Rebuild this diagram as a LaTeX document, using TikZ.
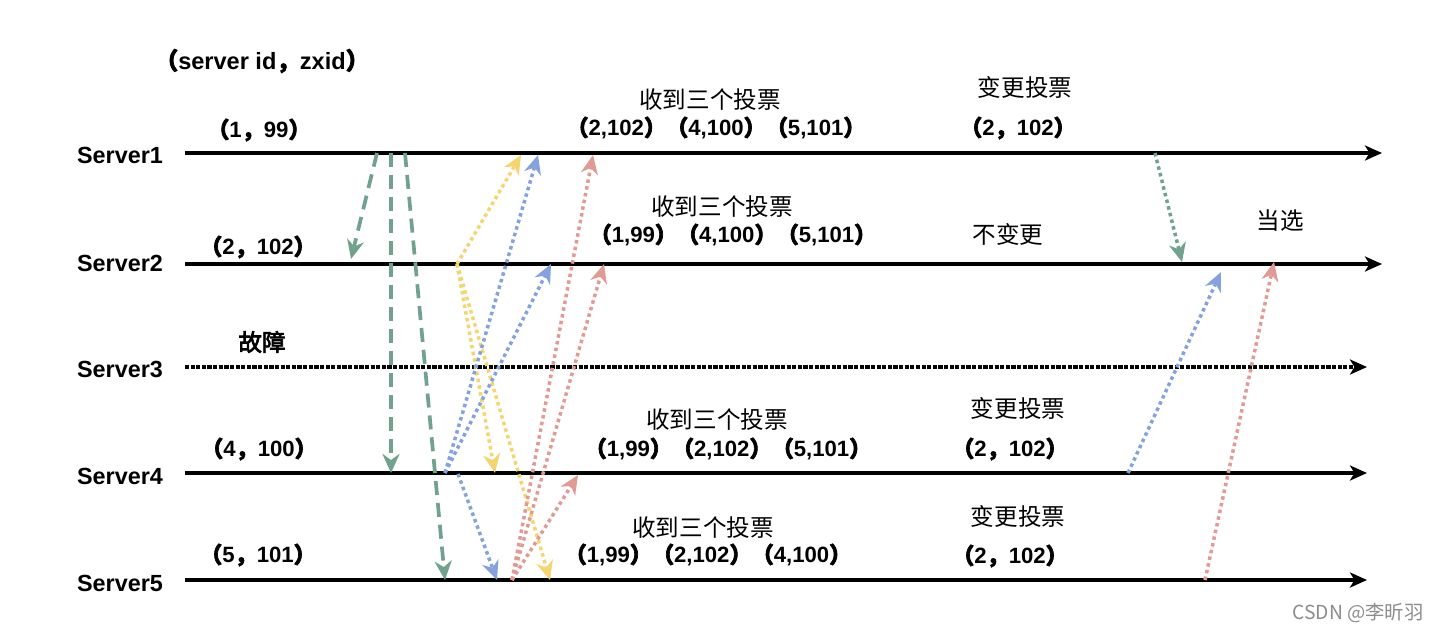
\documentclass[tikz,border=0pt]{standalone}
\usepackage{fontspec}
\setmainfont{Liberation Sans}
\newfontfamily\cjk{Noto Sans CJK SC}
\newfontfamily\cjkb[FakeBold=3]{Noto Sans CJK SC}
\newcommand\zhlp{{\cjkb （}}
\newcommand\zhrp{{\cjkb ）}}
\newcommand\zhcm{{\cjkb ，}}
\usetikzlibrary{arrows.meta}
\definecolor{cgreen}{RGB}{112,162,142}
\definecolor{cyellow}{RGB}{245,213,112}
\definecolor{cblue}{RGB}{132,162,222}
\definecolor{cred}{RGB}{226,154,148}
\tikzset{
  mainline/.style={line width=2pt,-{Stealth[length=0.34cm,width=0.3cm,inset=0.09cm]}},
  failline/.style={mainline,dash pattern=on 2.4pt off 0.8pt},
  lbl/.style={font=\fontsize{13.3}{15}\selectfont\bfseries},
  tup/.style={font=\fontsize{12.6}{14}\selectfont\bfseries},
  zh/.style={font=\fontsize{13.4}{15}\selectfont\cjk},
  zhb/.style={font=\fontsize{13.4}{15}\selectfont\cjkb},
  msgtip/.style={-{Stealth[length=0.38cm,width=0.34cm,inset=0.12cm]}},
  dashmsg/.style={msgtip,line width=2.1pt,dash pattern=on 8pt off 4.5pt},
  dotmsg/.style={msgtip,line width=2pt,dash pattern=on 2pt off 1.9pt},
}
\begin{document}
\begin{tikzpicture}[x=0.02cm,y=-0.02cm]
\useasboundingbox (0,0) rectangle (1436,633);
% server lines
\coordinate (s1a) at (185,153); \coordinate (s1b) at (1382,153);
\coordinate (s2a) at (185,264); \coordinate (s2b) at (1382,264);
\coordinate (s3a) at (185,367); \coordinate (s3b) at (1367,367);
\coordinate (s4a) at (185,473); \coordinate (s4b) at (1367,473);
\coordinate (s5a) at (185,580); \coordinate (s5b) at (1367,580);
\draw[mainline] (s1a) -- (s1b);
\draw[mainline] (s2a) -- (s2b);
\draw[failline] (s3a) -- (s3b);
\draw[mainline] (s4a) -- (s4b);
\draw[mainline] (s5a) -- (s5b);
% labels
\node[lbl] (n1) at (120,155) {Server1};
\node[lbl] (n2) at (120,263) {Server2};
\node[lbl] (n3) at (120,369) {Server3};
\node[lbl] (n4) at (120,476) {Server4};
\node[lbl] (n5) at (120,583) {Server5};
\node[tup,font=\fontsize{13.4}{15}\selectfont\bfseries] (hdr) at (262,61) {\zhlp server id\zhcm zxid\zhrp};
\node[tup] (v1) at (259,130) {\zhlp 1\zhcm 99\zhrp};
\node[tup] (v2) at (258,247) {\zhlp 2\zhcm 102\zhrp};
\node[zhb] (f3) at (262,342) {故障};
\node[tup] (v4) at (259,449) {\zhlp 4\zhcm 100\zhrp};
\node[tup] (v5) at (258,555) {\zhlp 5\zhcm 101\zhrp};
% middle
\node[zh] (r1) at (710,100) {收到三个投票};
\node[tup] (r1t) at (716,128) {\zhlp 2,102\zhrp\zhlp 4,100\zhrp\zhlp 5,101\zhrp};
\node[zh] (r2) at (722,207) {收到三个投票};
\node[tup] (r2t) at (733,235) {\zhlp 1,99\zhrp\zhlp 4,100\zhrp\zhlp 5,101\zhrp};
\node[zh] (r4) at (717,420) {收到三个投票};
\node[tup] (r4t) at (728,449) {\zhlp 1,99\zhrp\zhlp 2,102\zhrp\zhlp 5,101\zhrp};
\node[zh] (r5) at (703,528) {收到三个投票};
\node[tup] (r5t) at (708,555) {\zhlp 1,99\zhrp\zhlp 2,102\zhrp\zhlp 4,100\zhrp};
% right
\node[zh] (c1) at (1025,87) {变更投票};
\node[tup] (c1t) at (1018,128) {\zhlp 2\zhcm 102\zhrp};
\node[zh] (c2) at (1008,234) {不变更};
\node[zh] (c4) at (1018,408) {变更投票};
\node[tup] (c4t) at (1010,449) {\zhlp 2\zhcm 102\zhrp};
\node[zh] (c5) at (1018,516) {变更投票};
\node[tup] (c5t) at (1010,556) {\zhlp 2\zhcm 102\zhrp};
\node[zh] (el) at (1280,221) {当选};
\node[font=\fontsize{11}{13}\selectfont\cjk,text=black!45] (wm) at (1358,613) {CSDN @李昕羽};
% message endpoints
\coordinate (g1s) at (377,153); \coordinate (g1e) at (351,259);
\coordinate (g2s) at (391,153); \coordinate (g2e) at (391,473);
\coordinate (g3s) at (405,153); \coordinate (g3e) at (445,580);
\coordinate (ys) at (457,264);
\coordinate (y1e) at (521,155); \coordinate (y2e) at (495,473); \coordinate (y3e) at (550,580);
\coordinate (bs) at (445,473); \coordinate (b3s) at (458,474);
\coordinate (b1e) at (538,155); \coordinate (b2e) at (551,264); \coordinate (b3e) at (497,580);
\coordinate (rs) at (512,580);
\coordinate (r1e) at (593,155); \coordinate (r2e) at (604,264); \coordinate (r3e) at (578,475);
\coordinate (gRs) at (1155,153); \coordinate (gRe) at (1182,262);
\coordinate (bRs) at (1128,473); \coordinate (bRe) at (1221,272);
\coordinate (rRs) at (1205,580); \coordinate (rRe) at (1274,262);
% messages
\draw[dashmsg,cgreen] (g1s) -- (g1e);
\draw[dashmsg,cgreen] (g2s) -- (g2e);
\draw[dashmsg,cgreen] (g3s) -- (g3e);
\draw[dotmsg,cyellow] (ys) -- (y1e);
\draw[dotmsg,cyellow] (ys) -- (y2e);
\draw[dotmsg,cyellow] (ys) -- (y3e);
\draw[dotmsg,cblue] (bs) -- (b1e);
\draw[dotmsg,cblue] (bs) -- (b2e);
\draw[dotmsg,cblue] (b3s) -- (b3e);
\draw[dotmsg,cred] (rs) -- (r1e);
\draw[dotmsg,cred] (rs) -- (r2e);
\draw[dotmsg,cred] (rs) -- (r3e);
\draw[dotmsg,cgreen] (gRs) -- (gRe);
\draw[dotmsg,cblue] (bRs) -- (bRe);
\draw[dotmsg,cred] (rRs) -- (rRe);
\end{tikzpicture}
\end{document}
